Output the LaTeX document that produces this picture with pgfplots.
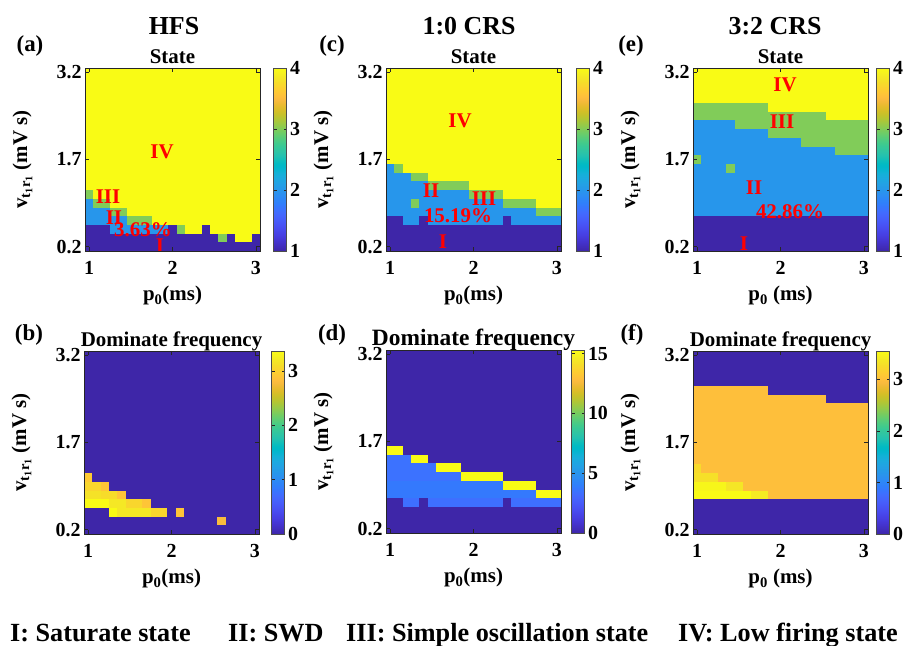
\documentclass[border=0pt]{standalone}
\usepackage{pgfplots}
\pgfplotsset{compat=1.18}
\usepackage{fontspec}
\setmainfont{Liberation Serif}
\newcommand\TickF{\bfseries\fontsize{20}{22}\selectfont}
\newcommand\LabF{\bfseries\fontsize{21}{24}\selectfont}
\newcommand\TitF{\bfseries\fontsize{26}{28}\selectfont}
\newcommand\LegF{\bfseries\fontsize{26.3}{28}\selectfont}
\newcommand\LetF{\bfseries\fontsize{23}{26}\selectfont}
\pgfkeys{/pgf/number format/assume math mode=true}
% one grid cell of the 21 x 21 map (axis 175bp x 183bp)
\pgfdeclareplotmark{gridcell}{\pgfpathrectangle{\pgfpoint{-4.25bp}{-4.45bp}}{\pgfpoint{8.5bp}{8.9bp}}\pgfusepathqfill}
\pgfplotsset{
colormap={parula}{
rgb=(0.2422,0.1504,0.6603) rgb=(0.2504,0.1650,0.7076) rgb=(0.2578,0.1818,0.7511) rgb=(0.2647,0.1978,0.7952) rgb=(0.2706,0.2147,0.8364) rgb=(0.2751,0.2342,0.8710) rgb=(0.2783,0.2559,0.8991) rgb=(0.2803,0.2782,0.9221) rgb=(0.2813,0.3006,0.9414) rgb=(0.2810,0.3228,0.9579) rgb=(0.2795,0.3447,0.9717) rgb=(0.2760,0.3667,0.9829) rgb=(0.2699,0.3892,0.9906) rgb=(0.2602,0.4123,0.9952) rgb=(0.2440,0.4358,0.9988) rgb=(0.2206,0.4603,0.9973) rgb=(0.1963,0.4847,0.9892) rgb=(0.1834,0.5074,0.9798) rgb=(0.1786,0.5289,0.9682) rgb=(0.1764,0.5499,0.9520) rgb=(0.1687,0.5703,0.9359) rgb=(0.1540,0.5902,0.9218) rgb=(0.1460,0.6091,0.9079) rgb=(0.1380,0.6276,0.8973) rgb=(0.1248,0.6459,0.8883) rgb=(0.1113,0.6635,0.8763) rgb=(0.0952,0.6798,0.8598) rgb=(0.0689,0.6948,0.8394) rgb=(0.0297,0.7082,0.8163) rgb=(0.0036,0.7203,0.7917) rgb=(0.0067,0.7312,0.7660) rgb=(0.0433,0.7411,0.7394) rgb=(0.0964,0.7500,0.7120) rgb=(0.1408,0.7584,0.6842) rgb=(0.1717,0.7670,0.6554) rgb=(0.1938,0.7758,0.6251) rgb=(0.2161,0.7843,0.5923) rgb=(0.2470,0.7918,0.5567) rgb=(0.2906,0.7973,0.5188) rgb=(0.3406,0.8008,0.4789) rgb=(0.3909,0.8029,0.4354) rgb=(0.4456,0.8024,0.3909) rgb=(0.5044,0.7993,0.3480) rgb=(0.5616,0.7942,0.3045) rgb=(0.6174,0.7876,0.2612) rgb=(0.6720,0.7793,0.2227) rgb=(0.7242,0.7698,0.1910) rgb=(0.7738,0.7598,0.1646) rgb=(0.8203,0.7498,0.1535) rgb=(0.8634,0.7406,0.1596) rgb=(0.9035,0.7330,0.1774) rgb=(0.9393,0.7288,0.2100) rgb=(0.9728,0.7298,0.2394) rgb=(0.9956,0.7434,0.2371) rgb=(0.9970,0.7659,0.2199) rgb=(0.9952,0.7893,0.2028) rgb=(0.9892,0.8136,0.1885) rgb=(0.9786,0.8386,0.1766) rgb=(0.9676,0.8639,0.1643) rgb=(0.9610,0.8890,0.1537) rgb=(0.9597,0.9135,0.1423) rgb=(0.9628,0.9373,0.1265) rgb=(0.9691,0.9606,0.1064) rgb=(0.9769,0.9839,0.0805)
},
panel/.style={
  scale only axis, width=175bp, height=183bp,
  anchor=north west,
  xmin=0.95, xmax=3.05, ymin=0.125, ymax=3.275,
  xtick={1,2,3}, ytick={0.2,1.7,3.2},
  axis on top, clip marker paths=true, tick align=inside, major tick length=4bp,
  axis line style={black!85, line width=0.6bp},
  every tick/.style={black!85, line width=0.6bp},
  ticklabel style={font=\TickF},
  xticklabel style={yshift=-7bp},
  ylabel style={at={(axis description cs:-0.3314,0.5)}, anchor=base, font=\LabF, inner sep=0pt},
  xlabel style={at={(axis description cs:0.5,-0.2732)}, anchor=base, font=\LabF, inner sep=0pt},
  title style={at={(axis description cs:0.5,1.0246)}, anchor=base, font=\LabF, inner sep=0pt, yshift=-6pt},
  ylabel={v\textsubscript{t\textsubscript{1}r\textsubscript{1}} (mV s)},
  colormap name=parula,
  colorbar,
  colorbar style={at={(parent axis.north east)}, anchor=north west, width=13bp, scale only axis, height=183bp,
    ticklabel style={font=\TickF}, axis line style={black!70, line width=0.6bp}, major tick length=3bp, yticklabel pos=right},
},
table/gridtab/.style={header=false, row sep=\\,
  x expr={1+0.1*(\coordindex-21*floor((\coordindex+0.5)/21))},
  y expr={0.2+0.15*floor((\coordindex+0.5)/21)}},
}
\begin{document}
\begin{tikzpicture}
\useasboundingbox (0,0) rectangle (903bp,646bp);
% column titles
\node[font=\TitF, anchor=base, inner sep=0pt] at (174bp,611bp) {HFS};
\node[font=\TitF, anchor=base, inner sep=0pt] at (469bp,611bp) {1:0 CRS};
\node[font=\TitF, anchor=base, inner sep=0pt] at (775bp,611bp) {3:2 CRS};
% panel letters
\node[font=\LetF, anchor=base, inner sep=0pt] at (30bp,594bp) {(a)};
\node[font=\LetF, anchor=base, inner sep=0pt] at (332bp,594bp) {(c)};
\node[font=\LetF, anchor=base, inner sep=0pt] at (631bp,594bp) {(e)};
\node[font=\LetF, anchor=base, inner sep=0pt] at (29bp,305bp) {(b)};
\node[font=\LetF, anchor=base, inner sep=0pt] at (332bp,305bp) {(d)};
\node[font=\LetF, anchor=base, inner sep=0pt] at (632bp,305bp) {(f)};

% ---------------- (a) HFS state
\begin{axis}[panel, at={(85bp,578bp)}, point meta min=1, point meta max=4,
  title={State}, xlabel={p\textsubscript{0}(ms)}, colorbar style={xshift=5bp, ytick={1,2,3,4}}]
\addplot[scatter, only marks, mark=gridcell, point meta=\thisrowno{0}] table[gridtab] {
1\\1\\1\\1\\1\\ 1\\1\\1\\1\\1\\ 1\\1\\1\\1\\1\\ 1\\1\\1\\1\\1\\ 1\\
1\\1\\1\\1\\1\\ 1\\1\\1\\1\\1\\ 1\\1\\1\\1\\1\\ 1\\3\\1\\4\\4\\ 1\\
1\\1\\1\\2\\2\\ 2\\2\\2\\2\\2\\ 1\\3\\4\\4\\1\\ 4\\4\\4\\4\\4\\ 4\\
2\\2\\2\\2\\2\\ 3\\3\\3\\4\\4\\ 4\\4\\4\\4\\4\\ 4\\4\\4\\4\\4\\ 4\\
2\\2\\2\\3\\3\\ 4\\4\\4\\4\\4\\ 4\\4\\4\\4\\4\\ 4\\4\\4\\4\\4\\ 4\\
2\\3\\3\\4\\4\\ 4\\4\\4\\4\\4\\ 4\\4\\4\\4\\4\\ 4\\4\\4\\4\\4\\ 4\\
3\\4\\4\\4\\4\\ 4\\4\\4\\4\\4\\ 4\\4\\4\\4\\4\\ 4\\4\\4\\4\\4\\ 4\\
4\\4\\4\\4\\4\\ 4\\4\\4\\4\\4\\ 4\\4\\4\\4\\4\\ 4\\4\\4\\4\\4\\ 4\\
4\\4\\4\\4\\4\\ 4\\4\\4\\4\\4\\ 4\\4\\4\\4\\4\\ 4\\4\\4\\4\\4\\ 4\\
4\\4\\4\\4\\4\\ 4\\4\\4\\4\\4\\ 4\\4\\4\\4\\4\\ 4\\4\\4\\4\\4\\ 4\\
4\\4\\4\\4\\4\\ 4\\4\\4\\4\\4\\ 4\\4\\4\\4\\4\\ 4\\4\\4\\4\\4\\ 4\\
4\\4\\4\\4\\4\\ 4\\4\\4\\4\\4\\ 4\\4\\4\\4\\4\\ 4\\4\\4\\4\\4\\ 4\\
4\\4\\4\\4\\4\\ 4\\4\\4\\4\\4\\ 4\\4\\4\\4\\4\\ 4\\4\\4\\4\\4\\ 4\\
4\\4\\4\\4\\4\\ 4\\4\\4\\4\\4\\ 4\\4\\4\\4\\4\\ 4\\4\\4\\4\\4\\ 4\\
4\\4\\4\\4\\4\\ 4\\4\\4\\4\\4\\ 4\\4\\4\\4\\4\\ 4\\4\\4\\4\\4\\ 4\\
4\\4\\4\\4\\4\\ 4\\4\\4\\4\\4\\ 4\\4\\4\\4\\4\\ 4\\4\\4\\4\\4\\ 4\\
4\\4\\4\\4\\4\\ 4\\4\\4\\4\\4\\ 4\\4\\4\\4\\4\\ 4\\4\\4\\4\\4\\ 4\\
4\\4\\4\\4\\4\\ 4\\4\\4\\4\\4\\ 4\\4\\4\\4\\4\\ 4\\4\\4\\4\\4\\ 4\\
4\\4\\4\\4\\4\\ 4\\4\\4\\4\\4\\ 4\\4\\4\\4\\4\\ 4\\4\\4\\4\\4\\ 4\\
4\\4\\4\\4\\4\\ 4\\4\\4\\4\\4\\ 4\\4\\4\\4\\4\\ 4\\4\\4\\4\\4\\ 4\\
4\\4\\4\\4\\4\\ 4\\4\\4\\4\\4\\ 4\\4\\4\\4\\4\\ 4\\4\\4\\4\\4\\ 4\\
};
\node[text=red, font=\LabF, inner sep=0pt] at (axis cs:1.874,1.829) {IV};
\node[text=red, font=\LabF, inner sep=0pt] at (axis cs:1.226,1.054) {III};
\node[text=red, font=\LabF, inner sep=0pt] at (axis cs:1.298,0.693) {II};
\node[text=red, font=\LabF, inner sep=0pt] at (axis cs:1.646,0.486) {3.63\%};
\node[text=red, font=\LabF, inner sep=0pt] at (axis cs:1.85,0.211) {I};
\end{axis}

% ---------------- (c) 1:0 CRS state
\begin{axis}[panel, at={(386bp,578bp)}, point meta min=1, point meta max=4,
  title={State}, xlabel={p\textsubscript{0}(ms)}, colorbar style={xshift=7bp, ytick={1,2,3,4}}]
\addplot[scatter, only marks, mark=gridcell, point meta=\thisrowno{0}] table[gridtab] {
1\\1\\1\\1\\1\\ 1\\1\\1\\1\\1\\ 1\\1\\1\\1\\1\\ 1\\1\\1\\1\\1\\ 1\\
1\\1\\1\\1\\1\\ 1\\1\\1\\1\\1\\ 1\\1\\1\\1\\1\\ 1\\1\\1\\1\\1\\ 1\\
1\\1\\1\\1\\1\\ 1\\1\\1\\1\\1\\ 1\\1\\1\\1\\1\\ 1\\1\\1\\1\\1\\ 1\\
1\\1\\2\\2\\1\\ 2\\2\\2\\2\\2\\ 2\\2\\2\\2\\1\\ 2\\2\\2\\2\\2\\ 2\\
2\\2\\2\\2\\2\\ 2\\2\\2\\2\\2\\ 2\\2\\2\\2\\2\\ 2\\2\\2\\3\\3\\ 3\\
2\\2\\2\\3\\2\\ 2\\2\\2\\2\\2\\ 2\\2\\2\\2\\3\\ 3\\3\\3\\4\\4\\ 4\\
2\\2\\2\\2\\2\\ 2\\2\\2\\2\\2\\ 3\\3\\3\\3\\4\\ 4\\4\\4\\4\\4\\ 4\\
2\\2\\2\\2\\2\\ 3\\3\\3\\3\\3\\ 4\\4\\4\\4\\4\\ 4\\4\\4\\4\\4\\ 4\\
2\\2\\2\\3\\3\\ 4\\4\\4\\4\\4\\ 4\\4\\4\\4\\4\\ 4\\4\\4\\4\\4\\ 4\\
2\\3\\4\\4\\4\\ 4\\4\\4\\4\\4\\ 4\\4\\4\\4\\4\\ 4\\4\\4\\4\\4\\ 4\\
4\\4\\4\\4\\4\\ 4\\4\\4\\4\\4\\ 4\\4\\4\\4\\4\\ 4\\4\\4\\4\\4\\ 4\\
4\\4\\4\\4\\4\\ 4\\4\\4\\4\\4\\ 4\\4\\4\\4\\4\\ 4\\4\\4\\4\\4\\ 4\\
4\\4\\4\\4\\4\\ 4\\4\\4\\4\\4\\ 4\\4\\4\\4\\4\\ 4\\4\\4\\4\\4\\ 4\\
4\\4\\4\\4\\4\\ 4\\4\\4\\4\\4\\ 4\\4\\4\\4\\4\\ 4\\4\\4\\4\\4\\ 4\\
4\\4\\4\\4\\4\\ 4\\4\\4\\4\\4\\ 4\\4\\4\\4\\4\\ 4\\4\\4\\4\\4\\ 4\\
4\\4\\4\\4\\4\\ 4\\4\\4\\4\\4\\ 4\\4\\4\\4\\4\\ 4\\4\\4\\4\\4\\ 4\\
4\\4\\4\\4\\4\\ 4\\4\\4\\4\\4\\ 4\\4\\4\\4\\4\\ 4\\4\\4\\4\\4\\ 4\\
4\\4\\4\\4\\4\\ 4\\4\\4\\4\\4\\ 4\\4\\4\\4\\4\\ 4\\4\\4\\4\\4\\ 4\\
4\\4\\4\\4\\4\\ 4\\4\\4\\4\\4\\ 4\\4\\4\\4\\4\\ 4\\4\\4\\4\\4\\ 4\\
4\\4\\4\\4\\4\\ 4\\4\\4\\4\\4\\ 4\\4\\4\\4\\4\\ 4\\4\\4\\4\\4\\ 4\\
4\\4\\4\\4\\4\\ 4\\4\\4\\4\\4\\ 4\\4\\4\\4\\4\\ 4\\4\\4\\4\\4\\ 4\\
};
\node[text=red, font=\LabF, inner sep=0pt] at (axis cs:1.838,2.363) {IV};
\node[text=red, font=\LabF, inner sep=0pt] at (axis cs:1.49,1.158) {II};
\node[text=red, font=\LabF, inner sep=0pt] at (axis cs:2.126,1.020) {III};
\node[text=red, font=\LabF, inner sep=0pt] at (axis cs:1.814,0.727) {15.19\%};
\node[text=red, font=\LabF, inner sep=0pt] at (axis cs:1.634,0.28) {I};
\end{axis}

% ---------------- (e) 3:2 CRS state
\begin{axis}[panel, at={(693bp,578bp)}, point meta min=1, point meta max=4,
  title={State}, xlabel={p\textsubscript{0} (ms)}, colorbar style={xshift=0bp, ytick={1,2,3,4}}]
\addplot[scatter, only marks, mark=gridcell, point meta=\thisrowno{0}] table[gridtab] {
1\\1\\1\\1\\1\\ 1\\1\\1\\1\\1\\ 1\\1\\1\\1\\1\\ 1\\1\\1\\1\\1\\ 1\\
1\\1\\1\\1\\1\\ 1\\1\\1\\1\\1\\ 1\\1\\1\\1\\1\\ 1\\1\\1\\1\\1\\ 1\\
1\\1\\1\\1\\1\\ 1\\1\\1\\1\\1\\ 1\\1\\1\\1\\1\\ 1\\1\\1\\1\\1\\ 1\\
1\\1\\1\\1\\1\\ 1\\1\\1\\1\\1\\ 1\\1\\1\\1\\1\\ 1\\1\\1\\1\\1\\ 1\\
2\\2\\2\\2\\2\\ 2\\2\\2\\2\\2\\ 2\\2\\2\\2\\2\\ 2\\2\\2\\2\\2\\ 2\\
2\\2\\2\\2\\2\\ 2\\2\\2\\2\\2\\ 2\\2\\2\\2\\2\\ 2\\2\\2\\2\\2\\ 2\\
2\\2\\2\\2\\2\\ 2\\2\\2\\2\\2\\ 2\\2\\2\\2\\2\\ 2\\2\\2\\2\\2\\ 2\\
2\\2\\2\\2\\2\\ 2\\2\\2\\2\\2\\ 2\\2\\2\\2\\2\\ 2\\2\\2\\2\\2\\ 2\\
2\\2\\2\\2\\2\\ 2\\2\\2\\2\\2\\ 2\\2\\2\\2\\2\\ 2\\2\\2\\2\\2\\ 2\\
2\\2\\2\\2\\3\\ 2\\2\\2\\2\\2\\ 2\\2\\2\\2\\2\\ 2\\2\\2\\2\\2\\ 2\\
3\\2\\2\\2\\2\\ 2\\2\\2\\2\\2\\ 2\\2\\2\\2\\2\\ 2\\2\\2\\2\\2\\ 2\\
2\\2\\2\\2\\2\\ 2\\2\\2\\2\\2\\ 2\\2\\2\\2\\2\\ 2\\2\\3\\3\\3\\ 3\\
2\\2\\2\\2\\2\\ 2\\2\\2\\2\\2\\ 2\\2\\2\\3\\3\\ 3\\3\\3\\3\\3\\ 3\\
2\\2\\2\\2\\2\\ 2\\2\\2\\2\\3\\ 3\\3\\3\\3\\3\\ 3\\3\\3\\3\\3\\ 3\\
2\\2\\2\\2\\2\\ 3\\3\\3\\3\\3\\ 3\\3\\3\\3\\3\\ 3\\3\\3\\3\\3\\ 3\\
3\\3\\3\\3\\3\\ 3\\3\\3\\3\\3\\ 3\\3\\3\\3\\3\\ 3\\4\\4\\4\\4\\ 4\\
3\\3\\3\\3\\3\\ 3\\3\\3\\3\\4\\ 4\\4\\4\\4\\4\\ 4\\4\\4\\4\\4\\ 4\\
4\\4\\4\\4\\4\\ 4\\4\\4\\4\\4\\ 4\\4\\4\\4\\4\\ 4\\4\\4\\4\\4\\ 4\\
4\\4\\4\\4\\4\\ 4\\4\\4\\4\\4\\ 4\\4\\4\\4\\4\\ 4\\4\\4\\4\\4\\ 4\\
4\\4\\4\\4\\4\\ 4\\4\\4\\4\\4\\ 4\\4\\4\\4\\4\\ 4\\4\\4\\4\\4\\ 4\\
4\\4\\4\\4\\4\\ 4\\4\\4\\4\\4\\ 4\\4\\4\\4\\4\\ 4\\4\\4\\4\\4\\ 4\\
};
\node[text=red, font=\LabF, inner sep=0pt] at (axis cs:2.054,2.982) {IV};
\node[text=red, font=\LabF, inner sep=0pt] at (axis cs:2.018,2.345) {III};
\node[text=red, font=\LabF, inner sep=0pt] at (axis cs:1.682,1.209) {II};
\node[text=red, font=\LabF, inner sep=0pt] at (axis cs:2.114,0.796) {42.86\%};
\node[text=red, font=\LabF, inner sep=0pt] at (axis cs:1.562,0.245) {I};
\end{axis}

% ---------------- (b) HFS dominant frequency
\begin{axis}[panel, at={(84bp,295bp)}, point meta min=0, point meta max=3.37,
  title={Dominate frequency}, xlabel={p\textsubscript{0}(ms)}, colorbar style={xshift=4bp, ytick={0,1,2,3}}]
\addplot[scatter, only marks, mark=gridcell, point meta=\thisrowno{0}] table[gridtab] {
0\\0\\0\\0\\0\\ 0\\0\\0\\0\\0\\ 0\\0\\0\\0\\0\\ 0\\0\\0\\0\\0\\ 0\\
0\\0\\0\\0\\0\\ 0\\0\\0\\0\\0\\ 0\\0\\0\\0\\0\\ 0\\2.8\\0\\0\\0\\ 0\\
0\\0\\0\\3.37\\3.2\\ 3.2\\3.2\\3.2\\3.05\\3.05\\ 0\\2.9\\0\\0\\0\\ 0\\0\\0\\0\\0\\ 0\\
3.37\\3.37\\3.37\\3.2\\3.2\\ 3.05\\3.05\\2.9\\0\\0\\ 0\\0\\0\\0\\0\\ 0\\0\\0\\0\\0\\ 0\\
3.15\\3.15\\3.1\\3.1\\2.9\\ 0\\0\\0\\0\\0\\ 0\\0\\0\\0\\0\\ 0\\0\\0\\0\\0\\ 0\\
3.05\\3.05\\2.9\\0\\0\\ 0\\0\\0\\0\\0\\ 0\\0\\0\\0\\0\\ 0\\0\\0\\0\\0\\ 0\\
2.95\\0\\0\\0\\0\\ 0\\0\\0\\0\\0\\ 0\\0\\0\\0\\0\\ 0\\0\\0\\0\\0\\ 0\\
0\\0\\0\\0\\0\\ 0\\0\\0\\0\\0\\ 0\\0\\0\\0\\0\\ 0\\0\\0\\0\\0\\ 0\\
0\\0\\0\\0\\0\\ 0\\0\\0\\0\\0\\ 0\\0\\0\\0\\0\\ 0\\0\\0\\0\\0\\ 0\\
0\\0\\0\\0\\0\\ 0\\0\\0\\0\\0\\ 0\\0\\0\\0\\0\\ 0\\0\\0\\0\\0\\ 0\\
0\\0\\0\\0\\0\\ 0\\0\\0\\0\\0\\ 0\\0\\0\\0\\0\\ 0\\0\\0\\0\\0\\ 0\\
0\\0\\0\\0\\0\\ 0\\0\\0\\0\\0\\ 0\\0\\0\\0\\0\\ 0\\0\\0\\0\\0\\ 0\\
0\\0\\0\\0\\0\\ 0\\0\\0\\0\\0\\ 0\\0\\0\\0\\0\\ 0\\0\\0\\0\\0\\ 0\\
0\\0\\0\\0\\0\\ 0\\0\\0\\0\\0\\ 0\\0\\0\\0\\0\\ 0\\0\\0\\0\\0\\ 0\\
0\\0\\0\\0\\0\\ 0\\0\\0\\0\\0\\ 0\\0\\0\\0\\0\\ 0\\0\\0\\0\\0\\ 0\\
0\\0\\0\\0\\0\\ 0\\0\\0\\0\\0\\ 0\\0\\0\\0\\0\\ 0\\0\\0\\0\\0\\ 0\\
0\\0\\0\\0\\0\\ 0\\0\\0\\0\\0\\ 0\\0\\0\\0\\0\\ 0\\0\\0\\0\\0\\ 0\\
0\\0\\0\\0\\0\\ 0\\0\\0\\0\\0\\ 0\\0\\0\\0\\0\\ 0\\0\\0\\0\\0\\ 0\\
0\\0\\0\\0\\0\\ 0\\0\\0\\0\\0\\ 0\\0\\0\\0\\0\\ 0\\0\\0\\0\\0\\ 0\\
0\\0\\0\\0\\0\\ 0\\0\\0\\0\\0\\ 0\\0\\0\\0\\0\\ 0\\0\\0\\0\\0\\ 0\\
0\\0\\0\\0\\0\\ 0\\0\\0\\0\\0\\ 0\\0\\0\\0\\0\\ 0\\0\\0\\0\\0\\ 0\\
};
\end{axis}

% ---------------- (d) 1:0 CRS dominant frequency
\begin{axis}[panel, at={(386bp,296bp)}, point meta min=0, point meta max=15.3,
  title={Dominate frequency}, title style={font=\bfseries\fontsize{23.5}{26}\selectfont},
  xlabel={p\textsubscript{0}(ms)}, colorbar style={xshift=2bp, ytick={0,5,10,15}}]
\addplot[scatter, only marks, mark=gridcell, point meta=\thisrowno{0}] table[gridtab] {
0\\0\\0\\0\\0\\ 0\\0\\0\\0\\0\\ 0\\0\\0\\0\\0\\ 0\\0\\0\\0\\0\\ 0\\
0\\0\\0\\0\\0\\ 0\\0\\0\\0\\0\\ 0\\0\\0\\0\\0\\ 0\\0\\0\\0\\0\\ 0\\
0\\0\\0\\0\\0\\ 0\\0\\0\\0\\0\\ 0\\0\\0\\0\\0\\ 0\\0\\0\\0\\0\\ 0\\
0\\0\\3.4\\3.4\\0\\ 3.4\\3.4\\3.4\\3.4\\3.4\\ 3.4\\3.4\\3.4\\3.4\\0\\ 3.4\\3.4\\3.4\\3.4\\3.4\\ 3.4\\
3.8\\3.8\\3.8\\3.8\\3.8\\ 3.8\\3.8\\3.8\\3.8\\3.8\\ 3.8\\3.8\\3.8\\3.8\\3.8\\ 3.8\\3.8\\3.8\\15.3\\15.3\\ 15.3\\
3.8\\3.8\\3.8\\3.8\\3.8\\ 3.8\\3.8\\3.8\\3.8\\3.8\\ 3.8\\3.8\\3.8\\3.8\\15.3\\ 15.3\\15.3\\15.3\\0\\0\\ 0\\
3.5\\3.5\\3.5\\3.5\\3.5\\ 3.5\\3.5\\3.5\\3.5\\15.3\\ 15.3\\15.3\\15.3\\15.3\\0\\ 0\\0\\0\\0\\0\\ 0\\
3.5\\3.5\\3.5\\3.5\\3.5\\ 3.5\\15.3\\15.3\\15.3\\0\\ 0\\0\\0\\0\\0\\ 0\\0\\0\\0\\0\\ 0\\
3.5\\3.5\\3.5\\15.3\\15.3\\ 0\\0\\0\\0\\0\\ 0\\0\\0\\0\\0\\ 0\\0\\0\\0\\0\\ 0\\
15.3\\15.3\\0\\0\\0\\ 0\\0\\0\\0\\0\\ 0\\0\\0\\0\\0\\ 0\\0\\0\\0\\0\\ 0\\
0\\0\\0\\0\\0\\ 0\\0\\0\\0\\0\\ 0\\0\\0\\0\\0\\ 0\\0\\0\\0\\0\\ 0\\
0\\0\\0\\0\\0\\ 0\\0\\0\\0\\0\\ 0\\0\\0\\0\\0\\ 0\\0\\0\\0\\0\\ 0\\
0\\0\\0\\0\\0\\ 0\\0\\0\\0\\0\\ 0\\0\\0\\0\\0\\ 0\\0\\0\\0\\0\\ 0\\
0\\0\\0\\0\\0\\ 0\\0\\0\\0\\0\\ 0\\0\\0\\0\\0\\ 0\\0\\0\\0\\0\\ 0\\
0\\0\\0\\0\\0\\ 0\\0\\0\\0\\0\\ 0\\0\\0\\0\\0\\ 0\\0\\0\\0\\0\\ 0\\
0\\0\\0\\0\\0\\ 0\\0\\0\\0\\0\\ 0\\0\\0\\0\\0\\ 0\\0\\0\\0\\0\\ 0\\
0\\0\\0\\0\\0\\ 0\\0\\0\\0\\0\\ 0\\0\\0\\0\\0\\ 0\\0\\0\\0\\0\\ 0\\
0\\0\\0\\0\\0\\ 0\\0\\0\\0\\0\\ 0\\0\\0\\0\\0\\ 0\\0\\0\\0\\0\\ 0\\
0\\0\\0\\0\\0\\ 0\\0\\0\\0\\0\\ 0\\0\\0\\0\\0\\ 0\\0\\0\\0\\0\\ 0\\
0\\0\\0\\0\\0\\ 0\\0\\0\\0\\0\\ 0\\0\\0\\0\\0\\ 0\\0\\0\\0\\0\\ 0\\
0\\0\\0\\0\\0\\ 0\\0\\0\\0\\0\\ 0\\0\\0\\0\\0\\ 0\\0\\0\\0\\0\\ 0\\
};
\end{axis}

% ---------------- (f) 3:2 CRS dominant frequency
\begin{axis}[panel, at={(693bp,295bp)}, point meta min=0, point meta max=3.55,
  title={Dominate frequency}, xlabel={p\textsubscript{0} (ms)}, colorbar style={xshift=0bp, ytick={0,1,2,3}}]
\addplot[scatter, only marks, mark=gridcell, point meta=\thisrowno{0}] table[gridtab] {
0\\0\\0\\0\\0\\ 0\\0\\0\\0\\0\\ 0\\0\\0\\0\\0\\ 0\\0\\0\\0\\0\\ 0\\
0\\0\\0\\0\\0\\ 0\\0\\0\\0\\0\\ 0\\0\\0\\0\\0\\ 0\\0\\0\\0\\0\\ 0\\
0\\0\\0\\0\\0\\ 0\\0\\0\\0\\0\\ 0\\0\\0\\0\\0\\ 0\\0\\0\\0\\0\\ 0\\
0\\0\\0\\0\\0\\ 0\\0\\0\\0\\0\\ 0\\0\\0\\0\\0\\ 0\\0\\0\\0\\0\\ 0\\
3.55\\3.55\\3.55\\3.55\\3.55\\ 3.55\\3.55\\3.4\\3.4\\3\\ 3\\3\\3\\3\\3\\ 3\\3\\3\\3\\3\\ 3\\
3.5\\3.5\\3.5\\3.5\\3.35\\ 3.35\\3\\3\\3\\3\\ 3\\3\\3\\3\\3\\ 3\\3\\3\\3\\3\\ 3\\
3.3\\3.3\\3.3\\3\\3\\ 3\\3\\3\\3\\3\\ 3\\3\\3\\3\\3\\ 3\\3\\3\\3\\3\\ 3\\
3.25\\3\\3\\3\\3\\ 3\\3\\3\\3\\3\\ 3\\3\\3\\3\\3\\ 3\\3\\3\\3\\3\\ 3\\
3\\3\\3\\3\\3\\ 3\\3\\3\\3\\3\\ 3\\3\\3\\3\\3\\ 3\\3\\3\\3\\3\\ 3\\
3\\3\\3\\3\\3\\ 3\\3\\3\\3\\3\\ 3\\3\\3\\3\\3\\ 3\\3\\3\\3\\3\\ 3\\
3\\3\\3\\3\\3\\ 3\\3\\3\\3\\3\\ 3\\3\\3\\3\\3\\ 3\\3\\3\\3\\3\\ 3\\
3\\3\\3\\3\\3\\ 3\\3\\3\\3\\3\\ 3\\3\\3\\3\\3\\ 3\\3\\3\\3\\3\\ 3\\
3\\3\\3\\3\\3\\ 3\\3\\3\\3\\3\\ 3\\3\\3\\3\\3\\ 3\\3\\3\\3\\3\\ 3\\
3\\3\\3\\3\\3\\ 3\\3\\3\\3\\3\\ 3\\3\\3\\3\\3\\ 3\\3\\3\\3\\3\\ 3\\
3\\3\\3\\3\\3\\ 3\\3\\3\\3\\3\\ 3\\3\\3\\3\\3\\ 3\\3\\3\\3\\3\\ 3\\
3\\3\\3\\3\\3\\ 3\\3\\3\\3\\3\\ 3\\3\\3\\3\\3\\ 3\\0\\0\\0\\0\\ 0\\
3\\3\\3\\3\\3\\ 3\\3\\3\\3\\0\\ 0\\0\\0\\0\\0\\ 0\\0\\0\\0\\0\\ 0\\
0\\0\\0\\0\\0\\ 0\\0\\0\\0\\0\\ 0\\0\\0\\0\\0\\ 0\\0\\0\\0\\0\\ 0\\
0\\0\\0\\0\\0\\ 0\\0\\0\\0\\0\\ 0\\0\\0\\0\\0\\ 0\\0\\0\\0\\0\\ 0\\
0\\0\\0\\0\\0\\ 0\\0\\0\\0\\0\\ 0\\0\\0\\0\\0\\ 0\\0\\0\\0\\0\\ 0\\
0\\0\\0\\0\\0\\ 0\\0\\0\\0\\0\\ 0\\0\\0\\0\\0\\ 0\\0\\0\\0\\0\\ 0\\
};
\end{axis}

% bottom key
\node[font=\LegF, anchor=base west, inner sep=0pt] at (10bp,5bp) {I: Saturate state};
\node[font=\LegF, anchor=base west, inner sep=0pt] at (228bp,5bp) {II: SWD};
\node[font=\LegF, anchor=base west, inner sep=0pt] at (346bp,5bp) {III: Simple oscillation state};
\node[font=\LegF, anchor=base west, inner sep=0pt] at (678bp,5bp) {IV: Low firing state};
\end{tikzpicture}
\end{document}
